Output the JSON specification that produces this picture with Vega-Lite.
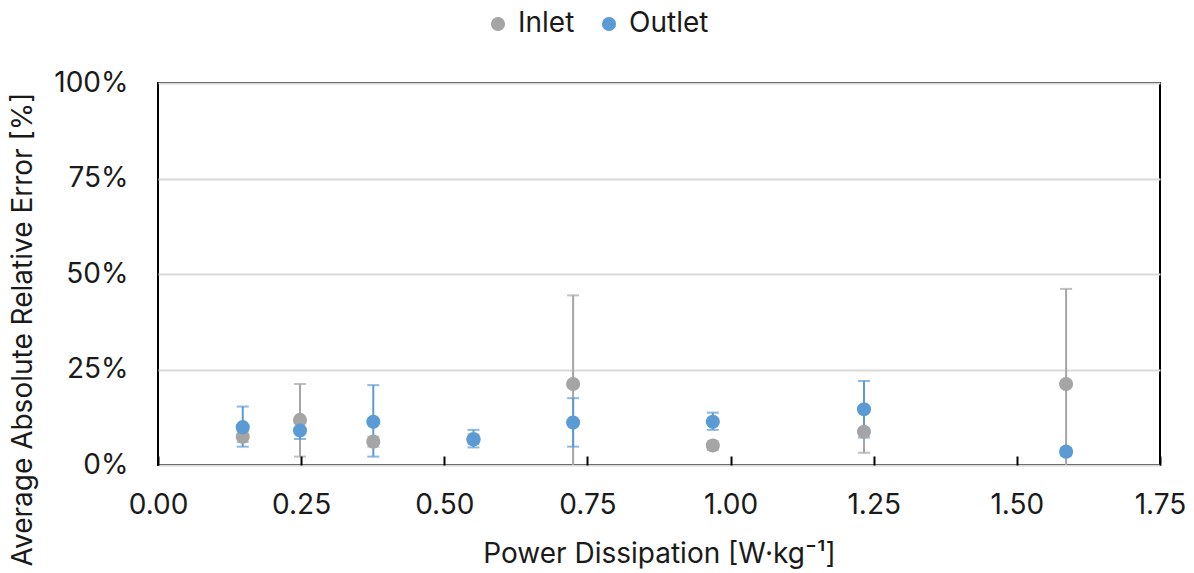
{
  "$schema": "https://vega.github.io/schema/vega-lite/v6.json",
  "width": 1002,
  "height": 382,
  "autosize": "none",
  "padding": {"left": 158, "top": 83, "right": 34, "bottom": 108},
  "background": "white",
  "config": {
    "font": "Inter",
    "view": {"stroke": "black", "strokeWidth": 2},
    "axis": {"labelFont": "Inter", "titleFont": "Inter", "labelColor": "#1a1a1a", "titleColor": "#1a1a1a", "titleFontWeight": "normal"}
  },
  "data": {
    "values": [
      {"x": 0.148, "series": "Inlet", "v": 7.4, "lo": 6.0, "hi": 8.8},
      {"x": 0.248, "series": "Inlet", "v": 11.8, "lo": 2.2, "hi": 21.2},
      {"x": 0.376, "series": "Inlet", "v": 6.1, "lo": 4.8, "hi": 7.4},
      {"x": 0.551, "series": "Inlet", "v": 6.8, "lo": 5.5, "hi": 8.0},
      {"x": 0.725, "series": "Inlet", "v": 21.2, "lo": -3, "hi": 44.4},
      {"x": 0.969, "series": "Inlet", "v": 5.1, "lo": 4.0, "hi": 6.2},
      {"x": 1.233, "series": "Inlet", "v": 8.7, "lo": 3.2, "hi": 14.0},
      {"x": 1.586, "series": "Inlet", "v": 21.2, "lo": -3, "hi": 46.1},
      {"x": 0.148, "series": "Outlet", "v": 9.9, "lo": 4.8, "hi": 15.3},
      {"x": 0.248, "series": "Outlet", "v": 9.0, "lo": 6.8, "hi": 11.2},
      {"x": 0.376, "series": "Outlet", "v": 11.3, "lo": 2.2, "hi": 20.9},
      {"x": 0.551, "series": "Outlet", "v": 6.7, "lo": 4.6, "hi": 9.2},
      {"x": 0.725, "series": "Outlet", "v": 11.1, "lo": 4.8, "hi": 17.5},
      {"x": 0.969, "series": "Outlet", "v": 11.3, "lo": 9.2, "hi": 13.7},
      {"x": 1.233, "series": "Outlet", "v": 14.6, "lo": 7.2, "hi": 22.0},
      {"x": 1.586, "series": "Outlet", "v": 3.5, "lo": 2.5, "hi": 4.5}
    ]
  },
  "encoding": {
    "x": {
      "field": "x", "type": "quantitative",
      "scale": {"domain": [0, 1.75], "nice": false, "zero": false},
      "axis": {
        "values": [0, 0.25, 0.5, 0.75, 1, 1.25, 1.5, 1.75],
        "format": ".2f",
        "title": "Power Dissipation [W·kg⁻¹]",
        "grid": false,
        "domain": false,
        "ticks": true,
        "tickSize": -9,
        "tickWidth": 2,
        "tickColor": "black",
        "zindex": 1,
        "labelFontSize": 28,
        "labelPadding": 35,
        "titleFontSize": 28,
        "titlePadding": 21,
        "labelFlush": false
      }
    },
    "color": {
      "field": "series", "type": "nominal",
      "scale": {"domain": ["Inlet", "Outlet"], "range": ["#A5A5A5", "#5B9BD5"]},
      "legend": {
        "orient": "none",
        "direction": "horizontal",
        "legendX": 326,
        "legendY": -73,
        "title": null,
        "symbolType": "circle",
        "symbolSize": 200,
        "symbolOpacity": 1,
        "symbolStrokeWidth": 0,
        "labelFontSize": 28,
        "labelFont": "Inter",
        "labelColor": "#1a1a1a",
        "labelOffset": 6,
        "columnPadding": 20,
        "symbolOffset": 0
      }
    }
  },
  "layer": [
    {
      "mark": {"type": "rule", "strokeWidth": 2, "clip": true},
      "encoding": {
        "y": {
          "field": "lo", "type": "quantitative",
          "scale": {"domain": [0, 100], "nice": false},
          "axis": {
            "values": [0, 25, 50, 75, 100],
            "labelExpr": "datum.value + '%'",
            "title": "Average Absolute Relative Error [%]",
            "grid": true,
            "gridColor": "#D9D9D9",
            "gridWidth": 2,
            "domain": false,
            "ticks": false,
            "labelFontSize": 28,
            "labelPadding": 30,
            "titleFontSize": 28,
            "titlePadding": 16,
            "titleY": 246
          }
        },
        "y2": {"field": "hi"}
      }
    },
    {
      "mark": {"type": "tick", "orient": "horizontal", "size": 12, "thickness": 2, "clip": true},
      "encoding": {"y": {"field": "hi", "type": "quantitative"}}
    },
    {
      "mark": {"type": "tick", "orient": "horizontal", "size": 12, "thickness": 2, "clip": true},
      "encoding": {"y": {"field": "lo", "type": "quantitative"}}
    },
    {
      "mark": {"type": "point", "shape": "circle", "filled": true, "opacity": 1, "size": 200},
      "encoding": {"y": {"field": "v", "type": "quantitative"}}
    }
  ]
}
